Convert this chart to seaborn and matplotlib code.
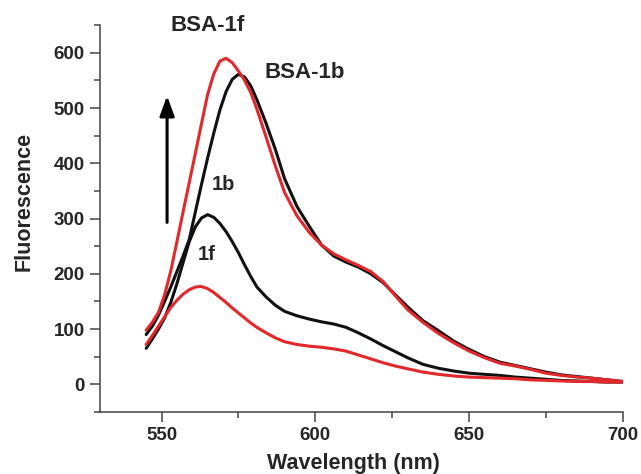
import pandas as pd
import matplotlib.pyplot as plt
import seaborn as sns
from matplotlib.ticker import MultipleLocator

comprimento = [545, 547, 549, 551, 553, 555, 557, 559, 561, 563, 565, 567, 569, 571, 573,
               575, 577, 579, 581, 584, 587, 590, 594, 598, 602, 606, 610, 614, 618, 622,
               626, 630, 635, 640, 645, 650, 655, 660, 665, 670, 675, 680, 685, 690, 695, 700]

bsa_1f = [98, 112, 130, 162, 205, 258, 312, 365, 418, 472, 525, 562, 585, 590, 582,
          567, 550, 528, 498, 447, 395, 347, 305, 275, 252, 236, 225, 215, 204, 186,
          160, 135, 112, 92, 75, 60, 48, 38, 33, 27, 20, 16, 13, 11, 8, 5]

bsa_1b = [90, 105, 125, 150, 176, 204, 232, 262, 312, 362, 410, 455, 497, 530, 552,
          561, 556, 540, 515, 472, 425, 372, 322, 286, 252, 232, 221, 212, 200, 184,
          162, 140, 115, 97, 78, 63, 50, 40, 34, 28, 22, 17, 14, 11, 8, 5]

s_1b = [65, 82, 100, 120, 148, 182, 220, 258, 285, 301, 307, 302, 291, 276, 258,
        238, 216, 195, 176, 158, 143, 132, 124, 118, 113, 109, 103, 93, 82, 70,
        59, 48, 36, 29, 24, 20, 18, 16, 13, 11, 9, 7, 6, 5, 4, 4]

s_1f = [72, 88, 105, 122, 139, 152, 163, 171, 176, 177, 173, 166, 157, 148, 138,
        129, 120, 111, 103, 93, 84, 77, 72, 69, 67, 64, 60, 53, 46, 39,
        33, 28, 22, 18, 15, 13, 12, 11, 10, 8, 7, 6, 5, 5, 4, 4]

series = {"1b": s_1b, "BSA-1b": bsa_1b, "1f": s_1f, "BSA-1f": bsa_1f}
cores = {"1b": "#111111", "BSA-1b": "#111111", "1f": "#e3282c", "BSA-1f": "#e3282c"}

dados = pd.concat([pd.DataFrame({"wl": comprimento, "fl": v, "amostra": k})
                   for k, v in series.items()], ignore_index=True)

sns.set_style("ticks")
plt.rcParams["font.family"] = ["Liberation Sans", "DejaVu Sans"]
plt.rcParams["font.weight"] = "bold"
plt.rcParams["axes.labelweight"] = "bold"

fig, ax = plt.subplots(figsize=(6.41, 4.74), dpi=100)
fig.subplots_adjust(left=0.156, right=0.972, top=0.947, bottom=0.131)

sns.lineplot(data=dados, x="wl", y="fl", hue="amostra", palette=cores,
             linewidth=2.2, legend=False, ax=ax, sort=False)

ax.set_xlim(530, 700)
ax.set_ylim(-50, 650)
ax.set_xticks([550, 600, 650, 700])
ax.set_yticks([0, 100, 200, 300, 400, 500, 600])
ax.xaxis.set_minor_locator(MultipleLocator(25))
ax.yaxis.set_minor_locator(MultipleLocator(50))

sns.despine(ax=ax)
for lado in ["left", "bottom"]:
    ax.spines[lado].set_color("#444444")
    ax.spines[lado].set_linewidth(1.1)
ax.tick_params(which="major", direction="out", length=7, width=1.1, color="#444444",
               labelsize=13.5, pad=4)
ax.tick_params(which="minor", direction="out", length=4, width=1.1, color="#444444")

ax.set_xlabel("Wavelength (nm)", fontsize=15.5, fontweight="bold")
ax.set_ylabel("Fluorescence", fontsize=15.5, fontweight="bold", va="center")
ax.xaxis.set_label_coords(0.484, -0.105)
ax.yaxis.set_label_coords(-0.145, 0.545)

ax.annotate("", xy=(551.8, 527), xytext=(551.8, 288),
            arrowprops=dict(arrowstyle="-|>,head_length=0.6,head_width=0.22",
                            color="black", lw=2.2, mutation_scale=20))

ax.text(565, 649, "BSA-1f", fontsize=16, fontweight="bold", ha="center", va="center")
ax.text(596.5, 564, "BSA-1b", fontsize=16, fontweight="bold", ha="center", va="center")
ax.text(570, 362, "1b", fontsize=14.5, fontweight="bold", ha="center", va="center")
ax.text(564.8, 235, "1f", fontsize=14.5, fontweight="bold", ha="center", va="center")

plt.savefig("out.png", dpi=100)
